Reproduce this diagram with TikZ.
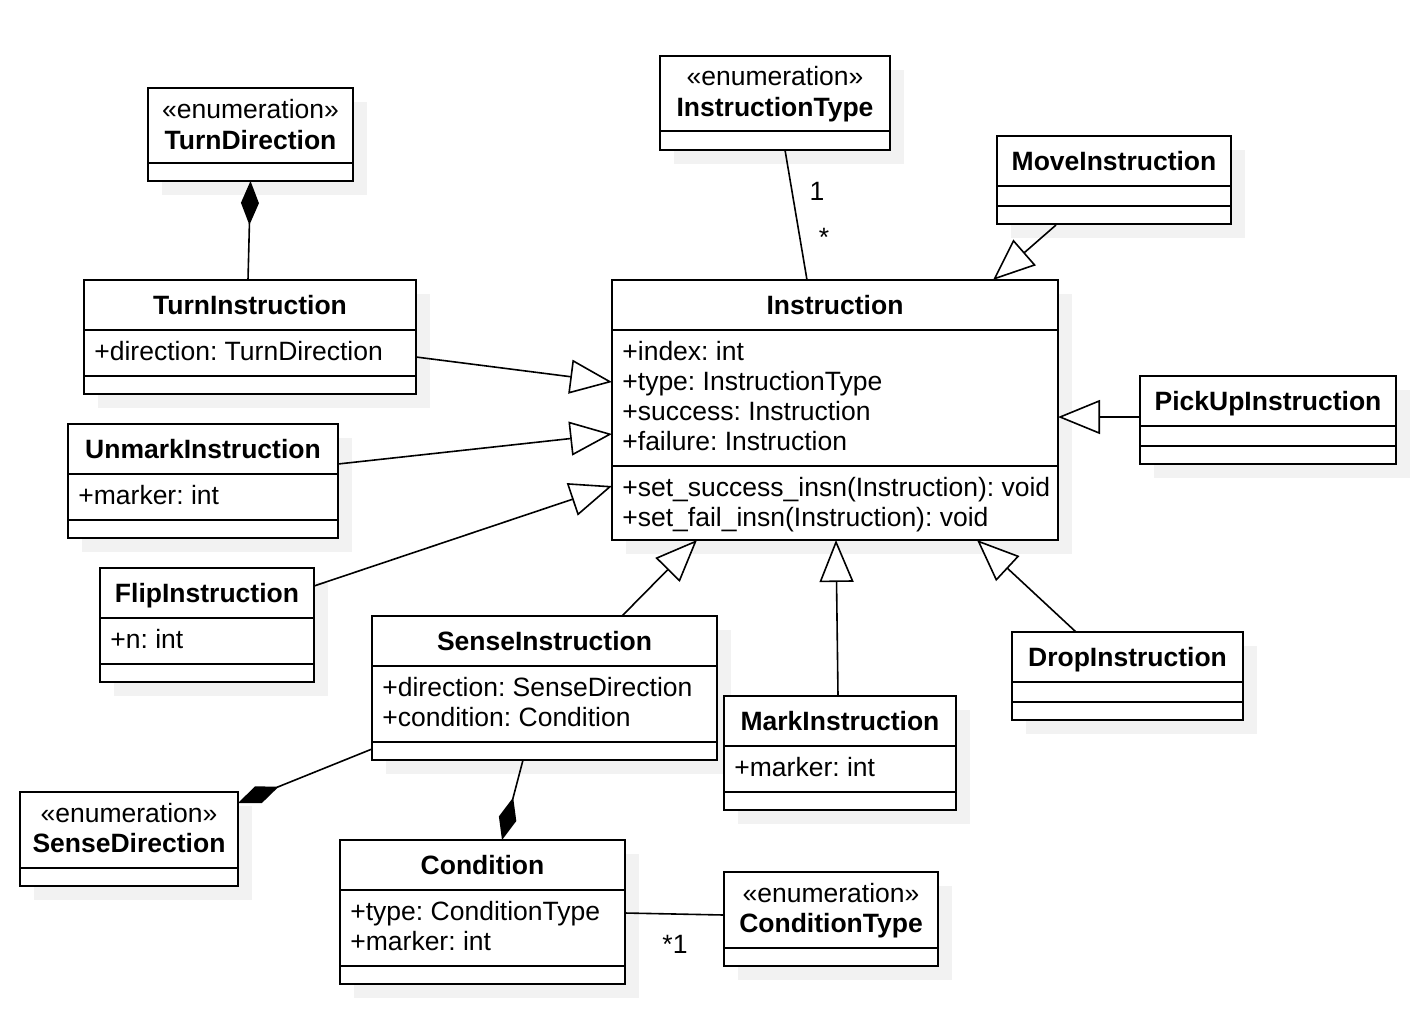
\documentclass[tikz,border=0pt]{standalone}
\usepackage{fontspec}
\setmainfont{Liberation Sans}
\usetikzlibrary{arrows.meta,fit,shadows,calc}
\definecolor{shadowgray}{HTML}{F2F2F2}
\tikzset{
  classbox/.style={draw=black, line width=1.1pt, fill=white, inner sep=0pt, outer sep=0pt,
    general shadow={fill=shadowgray, shadow xshift=7pt, shadow yshift=-7pt}},
  divider/.style={line width=1.1pt},
  title/.style={font=\bfseries, anchor=base, inner sep=0pt, yshift=-0.5pt},
  stereo/.style={anchor=base, inner sep=0pt, yshift=-0.5pt},
  member/.style={anchor=base west, inner sep=0pt, yshift=-0.5pt},
  mult/.style={anchor=base, inner sep=0pt},
  link/.style={line width=0.8pt},
  gen/.style={link, -{Triangle[length=21pt, width=17pt, fill=white]}},
  comp/.style={link, {Diamond[length=22pt, width=9pt]}-},
}
\begin{document}
\frenchspacing
\fontsize{13.25}{15}\selectfont
\begin{tikzpicture}[x=0.5pt, y=-0.5pt]
\useasboundingbox (0,0) rectangle (1428,1018);

% ---------- class boxes ----------
\node[classbox, fit={(148,88) (353,181)}] (tdir) {};
\draw[divider] (tdir.west |- 0,163) -- (tdir.east |- 0,163);
\node[stereo] (tdir-s) at (250.5,117) {«enumeration»};
\node[title]  (tdir-t) at (250.5,148) {TurnDirection};

\node[classbox, fit={(660,56) (890,150)}] (itype) {};
\draw[divider] (itype.west |- 0,131) -- (itype.east |- 0,131);
\node[stereo] (itype-s) at (775,84) {«enumeration»};
\node[title]  (itype-t) at (775,115) {InstructionType};

\node[classbox, fit={(997,136) (1231,224)}] (move) {};
\draw[divider] (move.west |- 0,186) -- (move.east |- 0,186);
\draw[divider] (move.west |- 0,206) -- (move.east |- 0,206);
\node[title] (move-t) at (1114,169) {MoveInstruction};

\node[classbox, fit={(612,280) (1058,540)}] (inst) {};
\draw[divider] (inst.west |- 0,330) -- (inst.east |- 0,330);
\draw[divider] (inst.west |- 0,466) -- (inst.east |- 0,466);
\node[title]  (inst-t)  at (835,313) {Instruction};
\node[member] (inst-a1) at (622,359) {+index: int};
\node[member] (inst-a2) at (622,389) {+type: InstructionType};
\node[member] (inst-a3) at (622,419) {+success: Instruction};
\node[member] (inst-a4) at (622,449) {+failure: Instruction};
\node[member] (inst-m1) at (622,495) {+set\_success\_insn(Instruction): void};
\node[member] (inst-m2) at (622,525) {+set\_fail\_insn(Instruction): void};

\node[classbox, fit={(84,280) (416,394)}] (turn) {};
\draw[divider] (turn.west |- 0,330) -- (turn.east |- 0,330);
\draw[divider] (turn.west |- 0,376) -- (turn.east |- 0,376);
\node[title]  (turn-t)  at (250,313) {TurnInstruction};
\node[member] (turn-a1) at (94,359) {+direction: TurnDirection};

\node[classbox, fit={(68,424) (338,538)}] (unmark) {};
\draw[divider] (unmark.west |- 0,474) -- (unmark.east |- 0,474);
\draw[divider] (unmark.west |- 0,520) -- (unmark.east |- 0,520);
\node[title]  (unmark-t)  at (203,457) {UnmarkInstruction};
\node[member] (unmark-a1) at (78,503) {+marker: int};

\node[classbox, fit={(100,568) (314,682)}] (flip) {};
\draw[divider] (flip.west |- 0,618) -- (flip.east |- 0,618);
\draw[divider] (flip.west |- 0,664) -- (flip.east |- 0,664);
\node[title]  (flip-t)  at (207,601) {FlipInstruction};
\node[member] (flip-a1) at (110,647) {+n: int};

\node[classbox, fit={(1140,376) (1396,464)}] (pick) {};
\draw[divider] (pick.west |- 0,426) -- (pick.east |- 0,426);
\draw[divider] (pick.west |- 0,446) -- (pick.east |- 0,446);
\node[title] (pick-t) at (1268,409) {PickUpInstruction};

\node[classbox, fit={(372,616) (717,760)}] (sense) {};
\draw[divider] (sense.west |- 0,666) -- (sense.east |- 0,666);
\draw[divider] (sense.west |- 0,742) -- (sense.east |- 0,742);
\node[title]  (sense-t)  at (544.5,649) {SenseInstruction};
\node[member] (sense-a1) at (382,695) {+direction: SenseDirection};
\node[member] (sense-a2) at (382,725) {+condition: Condition};

\node[classbox, fit={(724,696) (956,810)}] (mark) {};
\draw[divider] (mark.west |- 0,746) -- (mark.east |- 0,746);
\draw[divider] (mark.west |- 0,792) -- (mark.east |- 0,792);
\node[title]  (mark-t)  at (840,729) {MarkInstruction};
\node[member] (mark-a1) at (734,775) {+marker: int};

\node[classbox, fit={(1012,632) (1243,720)}] (drop) {};
\draw[divider] (drop.west |- 0,682) -- (drop.east |- 0,682);
\draw[divider] (drop.west |- 0,702) -- (drop.east |- 0,702);
\node[title] (drop-t) at (1127.5,665) {DropInstruction};

\node[classbox, fit={(20,792) (238,886)}] (sdir) {};
\draw[divider] (sdir.west |- 0,868) -- (sdir.east |- 0,868);
\node[stereo] (sdir-s) at (129,821) {«enumeration»};
\node[title]  (sdir-t) at (129,851) {SenseDirection};

\node[classbox, fit={(340,840) (625,984)}] (cond) {};
\draw[divider] (cond.west |- 0,890) -- (cond.east |- 0,890);
\draw[divider] (cond.west |- 0,966) -- (cond.east |- 0,966);
\node[title]  (cond-t)  at (482.5,873) {Condition};
\node[member] (cond-a1) at (350,919) {+type: ConditionType};
\node[member] (cond-a2) at (350,949) {+marker: int};

\node[classbox, fit={(724,872) (938,966)}] (ctype) {};
\draw[divider] (ctype.west |- 0,948) -- (ctype.east |- 0,948);
\node[stereo] (ctype-s) at (831,901) {«enumeration»};
\node[title]  (ctype-t) at (831,931) {ConditionType};

% ---------- generalisations ----------
\draw[gen] ([shift={(0,77)}]turn.north east)    -- ([shift={(0,102)}]inst.north west);
\draw[gen] ([shift={(0,40)}]unmark.north east)  -- ([shift={(0,154)}]inst.north west);
\draw[gen] ([shift={(0,18)}]flip.north east)    -- ([shift={(0,206)}]inst.north west);
\draw[gen] ([shift={(59,1)}]move.south west)    -- ([shift={(381,0)}]inst.north west);
\draw[gen] ([shift={(0,41)}]pick.north west)    -- ([shift={(0,137)}]inst.north east);
\draw[gen] ([shift={(250,0)}]sense.north west)  -- ([shift={(85,0)}]inst.south west);
\draw[gen] ([shift={(114,0)}]mark.north west)   -- ([shift={(224,0)}]inst.south west);
\draw[gen] ([shift={(64,0)}]drop.north west)    -- ([shift={(365,0)}]inst.south west);

% ---------- compositions ----------
\draw[comp] (tdir.south) -- ([shift={(164,0)}]turn.north west);
\draw[comp] ([shift={(0,11)}]sdir.north east) -- ([shift={(0,-11)}]sense.south west);
\draw[comp] ([shift={(162,0)}]cond.north west) -- ([shift={(151,0)}]sense.south west);

% ---------- associations ----------
\draw[link] ([shift={(125,0)}]itype.south west) -- ([shift={(195,0)}]inst.north west);
\node[mult] (m-one)  at (817,200) {1};
\node[mult] (m-many) at (824,246) {*};
\draw[link] ([shift={(0,73)}]cond.north east) -- ([shift={(0,43)}]ctype.north west);
\node[mult] (m-ct) at (675,953) {*1};
\end{tikzpicture}
\end{document}
